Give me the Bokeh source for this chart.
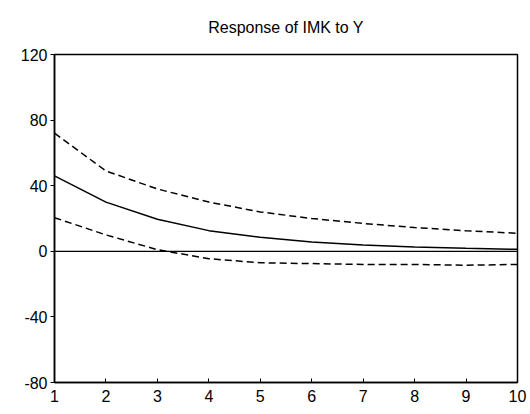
from bokeh.plotting import figure
from bokeh.models import Range1d, FixedTicker, Span
from bokeh.embed import file_html
from bokeh.resources import INLINE

periods = [1, 2, 3, 4, 5, 6, 7, 8, 9, 10]
response = [46, 30, 19.5, 12.6, 8.5, 5.6, 3.8, 2.6, 1.8, 1.2]
upper = [72, 49, 38, 30, 24, 20, 17, 14.5, 12.5, 11]
lower = [20.5, 10, 1, -4.5, -7, -7.5, -8, -8, -8.5, -8]
y_ticks = [-80, -40, 0, 40, 80, 120]
x_ticks = periods

FONT = "Liberation Sans"

p = figure(width=530, height=414, output_backend="svg", toolbar_location=None,
           x_range=Range1d(periods[0], periods[-1]),
           y_range=Range1d(y_ticks[0], y_ticks[-1]),
           min_border_left=54, min_border_right=13, min_border_top=54,
           min_border_bottom=32, title="Response of IMK to Y")

p.title.align = "center"
p.title.vertical_align = "top"
p.title.text_font = FONT
p.title.text_font_size = "16px"
p.title.text_font_style = "normal"
p.title.text_color = "black"
p.title.standoff = 34

p.xgrid.visible = False
p.ygrid.visible = False
p.outline_line_color = "black"
p.outline_line_width = 1.5
p.background_fill_color = "white"
p.border_fill_color = "white"

p.xaxis.ticker = FixedTicker(ticks=x_ticks)
p.yaxis.ticker = FixedTicker(ticks=y_ticks)
p.yaxis.major_label_overrides = {t: str(t) for t in y_ticks}
for ax in (p.xaxis[0], p.yaxis[0]):
    ax.axis_line_color = "black"
    ax.axis_line_width = 1.5
    ax.major_tick_line_color = "black"
    ax.minor_tick_line_color = None
    ax.major_label_text_font = FONT
    ax.major_label_text_font_size = "16px"
    ax.major_label_text_color = "black"
p.xaxis.major_tick_in = 4
p.xaxis.major_tick_out = 0
p.xaxis.major_label_standoff = 7
p.yaxis.major_tick_in = 0
p.yaxis.major_tick_out = 4
p.yaxis.major_label_standoff = 3

p.add_layout(Span(location=0, dimension="width", line_color="black", line_width=1.2))

p.line(periods, upper, line_color="black", line_width=1.5, line_dash="7 4")
p.line(periods, response, line_color="black", line_width=1.5)
p.line(periods, lower, line_color="black", line_width=1.5, line_dash="7 4")

open("out.html", "w").write(file_html(p, INLINE))
